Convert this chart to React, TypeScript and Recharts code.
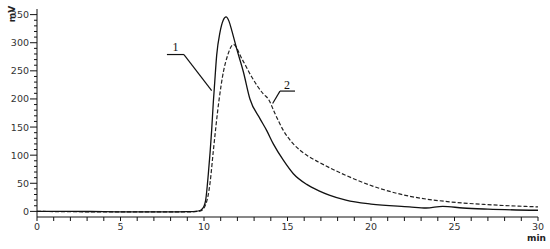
import {
  LineChart,
  Line,
  XAxis,
  YAxis,
  ReferenceLine,
  ReferenceDot,
} from "recharts";

// curve 1 (solid)
const solidTime = [0, 2, 4, 6, 8, 9, 9.5, 9.8, 10.0, 10.1, 10.26, 10.46, 10.56, 10.62, 10.76, 10.96, 11.15, 11.32, 11.5, 11.66, 11.96, 12.36, 12.75, 13.35, 13.75, 14.15, 14.75, 15.35, 16.15, 16.85, 17.5, 18.5, 20, 22.3, 23.3, 24.3, 25.5, 27, 30];
const solidValue = [0, 0, -0.5, -1, -1, -0.5, 0, 2, 9, 20, 67, 145, 195, 220, 278, 319, 340, 346, 338, 322, 289, 248, 200, 165, 144, 120, 91, 67, 48, 37, 29, 20, 13, 8, 6, 9, 6, 4, 2];

// curve 2 (dashed)
const dashedTime = [0, 5, 9, 9.8, 10.1, 10.36, 10.56, 10.9, 11.16, 11.42, 11.76, 12.26, 12.86, 13.55, 13.85, 14.25, 14.75, 15.35, 16.15, 16.85, 18.5, 20.1, 21.7, 22.3, 24.7, 27, 30];
const dashedValue = [0, -1, -1, 1, 12, 50, 108, 198, 248, 278, 297, 272, 239, 209, 200, 174, 144, 120, 100, 88, 64, 45, 31, 27, 17, 12, 8];

const xTicks = [0, 1, 2, 3, 4, 5, 6, 7, 8, 9, 10, 11, 12, 13, 14, 15, 16, 17, 18, 19, 20, 21, 22, 23, 24, 25, 26, 27, 28, 29, 30];
const yTicks = [0, 10, 20, 30, 40, 50, 60, 70, 80, 90, 100, 110, 120, 130, 140, 150, 160, 170, 180, 190, 200, 210, 220, 230, 240, 250, 260, 270, 280, 290, 300, 310, 320, 330, 340, 350];

const solidData = solidTime.map((t, i) => ({ t, v: solidValue[i] }));
const dashedData = dashedTime.map((t, i) => ({ t, v: dashedValue[i] }));

const tickFont = { fontFamily: "DejaVu Sans", fontSize: 9.5, fill: "#333" };

function YTick(props: any) {
  const { x, y, payload } = props;
  const major = payload.value % 50 === 0;
  return (
    <g>
      <line x1={x} x2={x - (major ? 7 : 3)} y1={y} y2={y} stroke="#111" />
      {major && (
        <text x={x - 8} y={y} dy={3.5} textAnchor="end" {...tickFont}>
          {payload.value}
        </text>
      )}
    </g>
  );
}

function XTick(props: any) {
  const { x, y, payload } = props;
  const major = payload.value % 5 === 0;
  return (
    <g>
      <line x1={x} x2={x} y1={y} y2={y + 4} stroke="#111" />
      {major && (
        <text x={x} y={y + 13} textAnchor="middle" {...tickFont}>
          {payload.value}
        </text>
      )}
    </g>
  );
}

const noteFont = { fontFamily: "Liberation Serif", fontSize: 12, fill: "#111" };

export default function App() {
  return (
    <div style={{ position: "absolute", left: 0, top: 0, width: 550, height: 249, background: "#fff" }}>
      <LineChart width={550} height={249} margin={{ top: 9, right: 12, bottom: 7, left: 7 }}>
        <XAxis
          type="number"
          dataKey="t"
          domain={[0, 30]}
          ticks={xTicks}
          interval={0}
          tickSize={0}
          tickMargin={0}
          tick={<XTick />}
          axisLine={{ stroke: "#111" }}
          height={25}
          allowDuplicatedCategory={false}
        />
        <YAxis
          type="number"
          domain={[-10, 360]}
          ticks={yTicks}
          interval={0}
          tickSize={0}
          tickMargin={0}
          tick={<YTick />}
          axisLine={{ stroke: "#111" }}
          width={30}
        />
        <Line
          data={dashedData}
          dataKey="v"
          type="monotone"
          stroke="#222"
          strokeWidth={1.2}
          strokeDasharray="4 2"
          dot={false}
          isAnimationActive={false}
        />
        <Line
          data={solidData}
          dataKey="v"
          type="monotone"
          stroke="#111"
          strokeWidth={1.3}
          dot={false}
          isAnimationActive={false}
        />
        <ReferenceLine segment={[{ x: 7.78, y: 279 }, { x: 8.8, y: 279 }]} stroke="#111" strokeWidth={1.2} ifOverflow="visible" />
        <ReferenceLine segment={[{ x: 8.8, y: 279 }, { x: 10.46, y: 215 }]} stroke="#111" strokeWidth={1.2} ifOverflow="visible" />
        <ReferenceLine segment={[{ x: 14.55, y: 214 }, { x: 15.45, y: 214 }]} stroke="#111" strokeWidth={1.2} ifOverflow="visible" />
        <ReferenceLine segment={[{ x: 14.55, y: 214 }, { x: 14.11, y: 192 }]} stroke="#111" strokeWidth={1.2} ifOverflow="visible" />
        <ReferenceDot x={8.3} y={292} r={0} stroke="none" fill="none" ifOverflow="visible"
          label={{ value: "1", position: "center", ...noteFont }} />
        <ReferenceDot x={14.97} y={226} r={0} stroke="none" fill="none" ifOverflow="visible"
          label={{ value: "2", position: "center", ...noteFont }} />
      </LineChart>
      <div
        style={{
          position: "absolute",
          left: 11.5,
          top: 14,
          transform: "translate(-50%, -50%) rotate(-90deg)",
          fontFamily: "DejaVu Sans",
          fontWeight: "bold",
          fontSize: 9,
          color: "#222",
          whiteSpace: "nowrap",
        }}
      >
        mV
      </div>
      <div
        style={{
          position: "absolute",
          left: 527,
          top: 233,
          fontFamily: "DejaVu Sans",
          fontWeight: "bold",
          fontSize: 9,
          color: "#222",
        }}
      >
        min
      </div>
    </div>
  );
}
